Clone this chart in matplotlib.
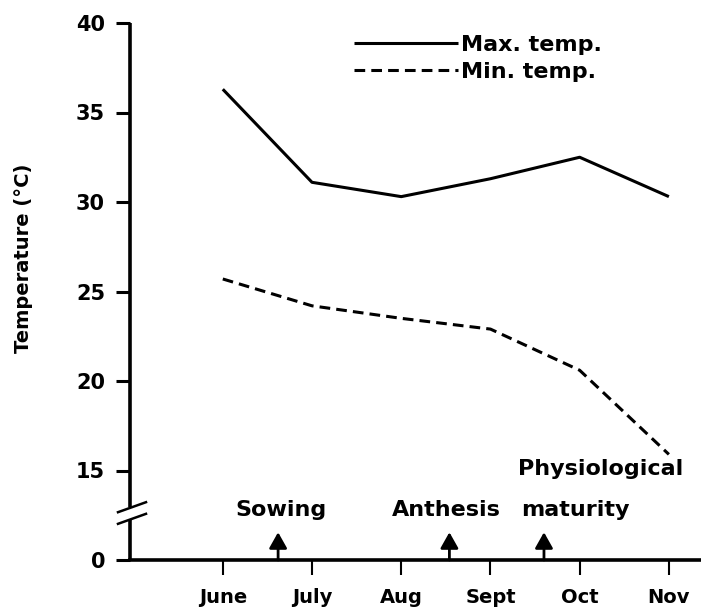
import matplotlib
matplotlib.use("Agg")
import matplotlib.pyplot as plt

plt.rcParams['font.family'] = ['DejaVu Sans']

# ---- data ----
months = ["June", "July", "Aug", "Sept", "Oct", "Nov"]
max_temp = [36.3, 31.1, 30.3, 31.3, 32.5, 30.3]
min_temp = [25.7, 24.2, 23.5, 22.9, 20.6, 15.9]
ytick_values = [10, 15, 20, 25, 30, 35, 40]          # 10 stands for the broken "0"
ytick_labels = ["0", "15", "20", "25", "30", "35", "40"]
events = ["Sowing", "Anthesis", "Physiological\nmaturity"]
event_pos = [0.62, 2.54, 3.60]                         # in month units

x = list(range(len(months)))

fig = plt.figure(figsize=(7.01, 6.16), dpi=100)
ax = fig.add_axes([130/701, 56/616, 571/701, 537/616])

lw = 2.2
ax.plot(x, max_temp, color='black', lw=lw, solid_capstyle='butt', label='Max. temp.')
ax.plot(x, min_temp, color='black', lw=lw, dashes=(3.5, 2.0), label='Min. temp.')

ax.set_xlim(-1.04, 5.36)
ax.set_ylim(10, 40)
ax.set_yticks(ytick_values)
ax.set_yticklabels(ytick_labels)
ax.set_xticks(x)
ax.set_xticklabels(months)

for s in ['top', 'right', 'left']:
    ax.spines[s].set_visible(False)
ax.spines['bottom'].set_linewidth(2.6)

ax.tick_params(axis='y', direction='out', length=10, width=2.2, pad=8,
               labelsize=15)
ax.tick_params(axis='x', direction='out', length=11, width=1.5, pad=9,
               labelsize=14)
for lab in ax.get_xticklabels() + ax.get_yticklabels():
    lab.set_fontweight('bold')

# broken left spine
ylo, yhi = (12.3 - 10) / 30, (12.95 - 10) / 30
ax.plot([0, 0], [0, ylo], transform=ax.transAxes, color='black', lw=2.6,
        clip_on=False, solid_capstyle='butt')
ax.plot([0, 0], [yhi, 1], transform=ax.transAxes, color='black', lw=2.6,
        clip_on=False, solid_capstyle='butt')
dx, dy = 1/571, 1/537
for yc in (ylo, yhi):
    ax.plot([-12*dx, 16*dx], [yc - 5*dy, yc + 5*dy], transform=ax.transAxes,
            color='black', lw=1.8, clip_on=False)

# event arrows
for pos in event_pos:
    ax.annotate('', xy=(pos, 11.55), xytext=(pos, 10.0),
                arrowprops=dict(arrowstyle='-|>,head_length=0.8,head_width=0.45',
                                lw=2.0, color='black', shrinkA=0, shrinkB=0,
                                mutation_scale=12))

tkw = dict(fontsize=16, fontweight='bold', va='center')
ax.text(0.65, 12.8, events[0], ha='center', **tkw)
ax.text(2.50, 12.8, events[1], ha='center', **tkw)
phys, mat = events[2].split('\n')
ax.text(3.31, 15.1, phys, ha='left', **tkw)
ax.text(3.34, 12.8, mat, ha='left', **tkw)

# legend
fig.legend(loc='upper left', bbox_to_anchor=(354/701, 1 - 35/616),
           frameon=False, handlelength=4.7, handletextpad=0.1,
           labelspacing=0.3, borderpad=0, borderaxespad=0,
           prop=dict(size=16, weight='bold'))

fig.text(24/701, 1 - 258/616, "Temperature (°C)", rotation=90, ha='center',
         va='center', fontsize=14, fontweight='bold')

fig.savefig("out.png", dpi=100)
